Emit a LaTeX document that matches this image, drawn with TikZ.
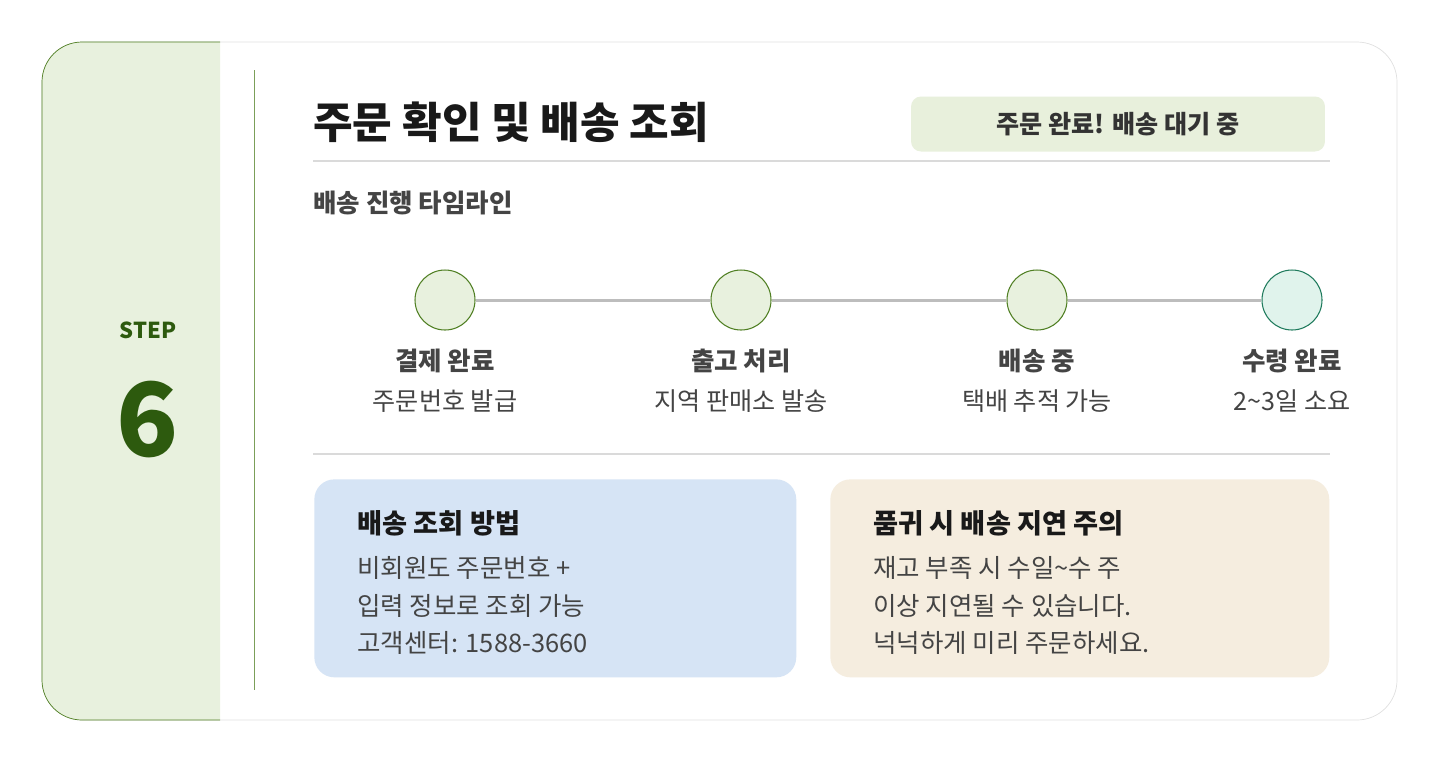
\documentclass[tikz,border=0pt]{standalone}
\usepackage{fontspec}
\setmainfont{Noto Sans CJK KR}
\usepackage{xcolor}
\usepackage{tikz}
\definecolor{stepgreen}{HTML}{2D5A0E}
\definecolor{panelgreen}{HTML}{E8F1DE}
\definecolor{linegreen}{HTML}{4F7F22}
\definecolor{cardgray}{HTML}{E0E0E0}
\definecolor{rulegray}{HTML}{DADADA}
\definecolor{trackgray}{HTML}{BDBDBD}
\definecolor{badgegreen}{HTML}{E8F0DC}
\definecolor{doneteal}{HTML}{E0F3EC}
\definecolor{doneedge}{HTML}{1E7A5C}
\definecolor{boxblue}{HTML}{D6E4F5}
\definecolor{boxbeige}{HTML}{F5EDDF}
\definecolor{textdark}{HTML}{333333}
\definecolor{textgray}{HTML}{444444}
\usetikzlibrary{positioning}

\begin{document}
\begin{tikzpicture}[x=0.02cm, y=-0.02cm,
    stage/.style={circle, minimum size=1.2cm, draw=linegreen, fill=panelgreen, line width=0.6pt},
    stagelabel/.style={font=\fontsize{14.5}{17}\selectfont\bfseries, text=textgray, inner sep=0pt},
    stagenote/.style={font=\fontsize{14.3}{17}\selectfont, text=textgray, inner sep=0pt},
    infobox/.style={rectangle, rounded corners=0.4cm, minimum height=3.96cm, anchor=north west},
    boxhead/.style={font=\fontsize{15.5}{18}\selectfont\bfseries, text=black!90, anchor=west, inner sep=0pt},
    boxbody/.style={font=\fontsize{14.5}{21.3}\selectfont, text=textgray, align=left, anchor=north west, inner sep=0pt},
    track/.style={draw=trackgray, line width=1.7pt},
    hrule/.style={draw=rulegray, line width=1pt},
]
\useasboundingbox (0,0) rectangle (1440,762);

% Card
\draw[cardgray, fill=white, rounded corners=0.8cm] (42,42) rectangle (1397,720);
\draw[linegreen, fill=panelgreen, rounded corners=0.8cm] (220,42) -- (42,42) -- (42,720) -- (220,720);
\draw[linegreen!75, line width=0.4pt] (254,70) -- (254,690);

% Step panel
\node (steplabel) [font=\fontsize{12.5}{15}\selectfont\bfseries, text=stepgreen] at (148,330) {STEP};
\node (stepnum) [font=\fontsize{58}{66}\selectfont\bfseries, text=stepgreen, below=0.6cm of steplabel] {6};

% Header
\node (title) [anchor=west, font=\fontsize{24.5}{28}\selectfont\bfseries, text=black!90, inner sep=0pt] at (313,122) {주문 확인 및 배송 조회};
\node (badge) [rectangle, rounded corners=0.2cm, fill=badgegreen, minimum width=8.28cm, minimum height=1.1cm, font=\fontsize{14.3}{17}\selectfont\bfseries, text=textdark] at (1118,124) {주문 완료! 배송 대기 중};
\coordinate (ruleA) at (313,161);
\coordinate (ruleB) at (1330,161);
\draw[hrule] (ruleA) -- (ruleB);

\node (subhead) [anchor=west, font=\fontsize{14.5}{17}\selectfont\bfseries, text=textgray, inner sep=0pt] at (313,203) {배송 진행 타임라인};

% Timeline
\node (c1) [stage] at (445,300) {};
\node (c2) [stage] at (741,300) {};
\node (c3) [stage] at (1037,300) {};
\node (c4) [stage, draw=doneedge, fill=doneteal] at (1292,300) {};
\draw[track] (c1) -- (c2);
\draw[track] (c2) -- (c3);
\draw[track] (c3) -- (c4);

\node (l1) [stagelabel, below=0.97cm of c1.center] {결제 완료};
\node (l2) [stagelabel, below=0.97cm of c2.center] {출고 처리};
\node (l3) [stagelabel, below=0.97cm of c3.center] {배송 중};
\node (l4) [stagelabel, below=0.97cm of c4.center] {수령 완료};
\node (n1) [stagenote, below=0.33cm of l1] {주문번호 발급};
\node (n2) [stagenote, below=0.33cm of l2] {지역 판매소 발송};
\node (n3) [stagenote, below=0.33cm of l3] {택배 추적 가능};
\node (n4) [stagenote, below=0.33cm of l4] {2\textasciitilde3일 소요};

\coordinate (ruleC) at (313,454);
\coordinate (ruleD) at (1330,454);
\draw[hrule] (ruleC) -- (ruleD);

% Info boxes
\node (lookup) [infobox, fill=boxblue, minimum width=9.64cm] at (314,479) {};
\node (delay) [infobox, fill=boxbeige, minimum width=9.98cm] at (830,479) {};

\node (lookuphead) [boxhead] at (357,523) {배송 조회 방법};
\node (lookupbody) [boxbody, below=0.4cm of lookuphead.south west, anchor=north west] {비회원도 주문번호 +\\입력 정보로 조회 가능\\고객센터: 1588-3660};

\node (delayhead) [boxhead] at (873,523) {품귀 시 배송 지연 주의};
\node (delaybody) [boxbody, below=0.4cm of delayhead.south west, anchor=north west] {재고 부족 시 수일\textasciitilde 수 주\\이상 지연될 수 있습니다.\\넉넉하게 미리 주문하세요.};

\end{tikzpicture}
\end{document}
